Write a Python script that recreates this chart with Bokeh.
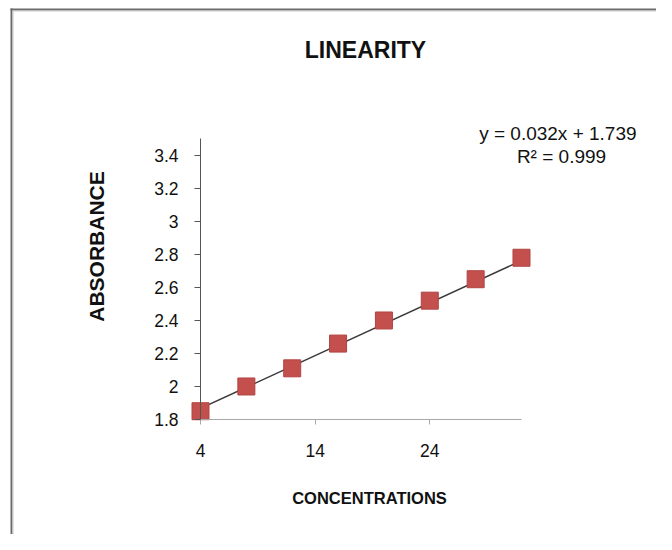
from bokeh.plotting import figure
from bokeh.models import Range1d, FixedTicker, Label, BoxAnnotation
from bokeh.embed import file_html
from bokeh.resources import INLINE

# ---- data ----
concentrations = [4, 8, 12, 16, 20, 24, 28, 32]
absorbance = [1.85, 2.00, 2.11, 2.26, 2.40, 2.52, 2.65, 2.78]
slope_val = 0.032
intercept_val = 1.739
x_ticks = [4, 14, 24]
x_bounds = (4, 32)
y_ticks = [1.8, 2.0, 2.2, 2.4, 2.6, 2.8, 3.0, 3.2, 3.4]
y_tick_labels = ["1.8", "2", "2.2", "2.4", "2.6", "2.8", "3", "3.2", "3.4"]
y_bounds = (1.8, 3.5)
title_text = "LINEARITY"
x_title = "CONCENTRATIONS"
y_title = "ABSORBANCE"
eq_text = "y = 0.032x  + 1.739"
r2_text = "R² = 0.999"

FONT = "Liberation Sans"
W, H = 656, 534

# plot area occupies the whole figure; axes are pinned at the data origin
p = figure(width=W, height=H, output_backend="svg", toolbar_location=None,
           x_range=Range1d(-13.446, 43.776), y_range=Range1d(1.103, 4.339),
           min_border=0)
p.outline_line_color = None
p.xgrid.visible = False
p.ygrid.visible = False
p.background_fill_color = None
p.border_fill_color = None

# axes
p.xaxis.fixed_location = y_bounds[0]
p.xaxis.bounds = x_bounds
p.yaxis.fixed_location = x_bounds[0]
p.yaxis.bounds = y_bounds
p.xaxis.ticker = FixedTicker(ticks=x_ticks)
p.yaxis.ticker = FixedTicker(ticks=y_ticks)
p.yaxis.major_label_overrides = {t: l for t, l in zip(y_ticks, y_tick_labels)}
for ax in (p.xaxis, p.yaxis):
    ax.minor_tick_line_color = None
    ax.major_tick_in = 0
    ax.major_label_text_font = FONT
    ax.major_label_text_font_size = "17.5px"
    ax.major_label_text_color = "#111111"
p.yaxis.axis_line_color = "#555555"
p.yaxis.major_tick_line_color = "#555555"
p.yaxis.major_tick_out = 6
p.yaxis.major_label_standoff = 16
p.xaxis.axis_line_color = "#a8a8a8"
p.xaxis.major_tick_line_color = "#a8a8a8"
p.xaxis.major_tick_out = 5
p.xaxis.major_label_standoff = 20

# linear trendline over the data extent
x0, x1 = concentrations[0], concentrations[-1]
p.line([x0, x1], [slope_val * x0 + intercept_val, slope_val * x1 + intercept_val],
       line_color="#3a3a3a", line_width=1.5)

# points
p.scatter(concentrations, absorbance, marker="square", size=17,
          fill_color="#C4504E", line_color="#B04442", line_width=1)

# chart-area border: only the left and top edges are inside the picture
for l, r, t, b, c in [(10, 12, 8, H, "#6a6a6a"), (10, W, 8, 10, "#6a6a6a"),
                      (12, 13, 10, H, "#c8c8c8"), (12, W, 10, 11, "#c8c8c8")]:
    p.add_layout(BoxAnnotation(left=l, right=r, top=t, bottom=b,
                               left_units="canvas", right_units="canvas",
                               top_units="canvas", bottom_units="canvas",
                               fill_color=c, fill_alpha=1,
                               line_color=None, line_alpha=0, line_width=0))

def lab(text, x, y, size, bold=True, angle=0.0):
    p.add_layout(Label(text=text, x=x, y=y, x_units="canvas", y_units="canvas",
                       text_font=FONT, text_font_size=size,
                       text_font_style="bold" if bold else "normal",
                       text_align="center", text_baseline="middle",
                       text_color="#111111", angle=angle))

lab(title_text, 365, 49, "23px")
lab(x_title, 369, 497, "16.5px")
lab(y_title, 96, 246, "21px", angle=1.5708)
lab(eq_text, 560, 133, "19px", bold=False)
lab(r2_text, 561, 156, "19px", bold=False)

open("out.html", "w").write(file_html(p, INLINE))
